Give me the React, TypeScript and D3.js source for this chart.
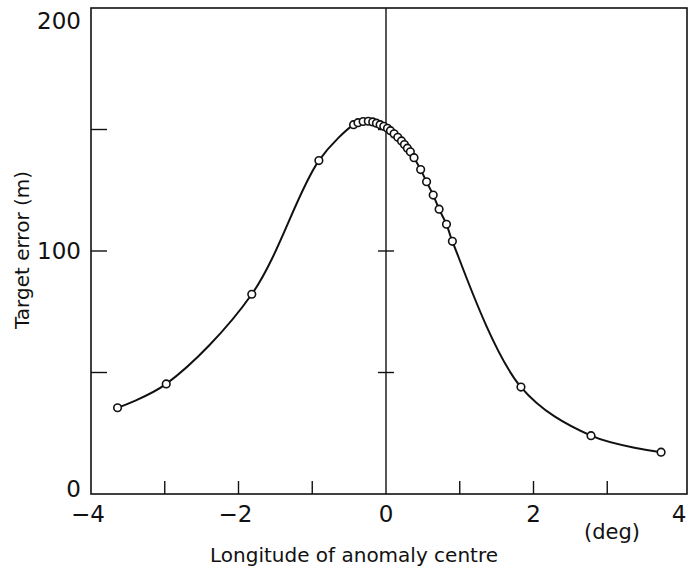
import React, { useEffect, useRef } from 'react';
import * as d3 from 'd3';

// longitude (deg) of anomaly centre vs target error (m)
const longitude = [
  -3.64, -2.98, -1.82, -0.91, -0.44, -0.38, -0.31, -0.24, -0.18, -0.13, -0.08,
  -0.03, 0.02, 0.06, 0.11, 0.16, 0.21, 0.25, 0.29, 0.33, 0.38, 0.47, 0.55,
  0.64, 0.72, 0.82, 0.9, 1.83, 2.78, 3.73
];
const targetError = [
  35.5, 45.3, 82.2, 137.2, 152, 152.8, 153.3, 153.4, 153.1, 152.6, 152,
  151.3, 150.5, 149.5, 148.2, 146.8, 145.3, 143.8, 142.3, 140.8, 138.4, 133.5, 128.5,
  123, 117.2, 111, 104, 44, 24, 17.2
];

const xTickMarks = [-3, -2, -1, 1, 2, 3];
const xTickLabels = [-4, -2, 0, 2, 4];
const yTickMarks = [50, 100, 150];
const yTickLabels = [0, 100, 200];

const W = 688;
const H = 570;
const FONT = '"DejaVu Sans", sans-serif';

const App: React.FC = () => {
  const svgRef = useRef<SVGSVGElement>(null);

  useEffect(() => {
    if (!svgRef.current) return;
    const svg = d3.select(svgRef.current);
    svg.selectAll('*').remove();

    const left = 91;
    const right = 687;
    const top = 8;
    const bottom = 494;

    const x = d3.scaleLinear().domain([-4, 4]).range([left, 681]);
    const y = d3.scaleLinear().domain([0, 200]).range([bottom, top]);

    const g = svg.append('g');

    // frame
    g.append('rect')
      .attr('x', left)
      .attr('y', top)
      .attr('width', right - left)
      .attr('height', bottom - top)
      .attr('fill', 'none')
      .attr('stroke', '#111')
      .attr('stroke-width', 1.6);

    // vertical line at 0
    g.append('line')
      .attr('x1', x(0)).attr('x2', x(0))
      .attr('y1', top).attr('y2', bottom)
      .attr('stroke', '#111')
      .attr('stroke-width', 1.4);

    // bottom ticks (inward)
    g.selectAll('.xt')
      .data(xTickMarks)
      .enter()
      .append('line')
      .attr('x1', d => x(d)).attr('x2', d => x(d))
      .attr('y1', bottom).attr('y2', bottom - 13)
      .attr('stroke', '#111')
      .attr('stroke-width', 1.4);

    // left ticks (inward)
    g.selectAll('.yt')
      .data(yTickMarks)
      .enter()
      .append('line')
      .attr('x1', left).attr('x2', left + 16)
      .attr('y1', d => y(d)).attr('y2', d => y(d))
      .attr('stroke', '#111')
      .attr('stroke-width', 1.4);

    // ticks crossing the centre line
    g.selectAll('.ct')
      .data(yTickMarks)
      .enter()
      .append('line')
      .attr('x1', x(0) - 8).attr('x2', x(0) + 8)
      .attr('y1', d => y(d)).attr('y2', d => y(d))
      .attr('stroke', '#111')
      .attr('stroke-width', 1.4);

    // x tick labels
    g.selectAll('.xl')
      .data(xTickLabels)
      .enter()
      .append('text')
      .attr('x', d => (d === 4 ? right - 8 : x(d) + (d < 0 ? -3 : 0)))
      .attr('y', 522)
      .attr('text-anchor', 'middle')
      .style('font-family', FONT)
      .style('font-size', '23px')
      .attr('fill', '#111')
      .text(d => (d < 0 ? '\u2212' + Math.abs(d) : String(d)));

    // y tick labels
    g.selectAll('.yl')
      .data(yTickLabels)
      .enter()
      .append('text')
      .attr('x', 81)
      .attr('y', d => Math.min(497, Math.max(29, y(d) + 8)))
      .attr('text-anchor', 'end')
      .style('font-family', FONT)
      .style('font-size', '23px')
      .attr('fill', '#111')
      .text(d => String(d));

    // units
    g.append('text')
      .attr('x', 612)
      .attr('y', 539)
      .attr('text-anchor', 'middle')
      .style('font-family', FONT)
      .style('font-size', '21px')
      .attr('fill', '#111')
      .text('(deg)');

    // axis titles
    g.append('text')
      .attr('x', 354)
      .attr('y', 562)
      .attr('text-anchor', 'middle')
      .style('font-family', FONT)
      .style('font-size', '20px')
      .attr('fill', '#111')
      .text('Longitude of anomaly centre');

    g.append('text')
      .attr('transform', 'rotate(-90)')
      .attr('x', -250)
      .attr('y', 29)
      .attr('text-anchor', 'middle')
      .style('font-family', FONT)
      .style('font-size', '20px')
      .attr('fill', '#111')
      .text('Target error (m)');

    // curve
    const pts: [number, number][] = longitude.map((d, i) => [d, targetError[i]]);
    const line = d3.line<[number, number]>()
      .x(d => x(d[0]))
      .y(d => y(d[1]))
      .curve(d3.curveCatmullRom.alpha(0.5));

    g.append('path')
      .datum(pts)
      .attr('fill', 'none')
      .attr('stroke', '#111')
      .attr('stroke-width', 2)
      .attr('d', line);

    // markers
    g.selectAll('.pt')
      .data(pts)
      .enter()
      .append('circle')
      .attr('cx', d => x(d[0]))
      .attr('cy', d => y(d[1]))
      .attr('r', 3.8)
      .attr('fill', 'white')
      .attr('stroke', '#111')
      .attr('stroke-width', 1.6);
  }, []);

  return (
    <svg
      ref={svgRef}
      width={W}
      height={H}
      style={{ position: 'absolute', left: 0, top: 0, background: 'white' }}
    />
  );
};

export default App;
